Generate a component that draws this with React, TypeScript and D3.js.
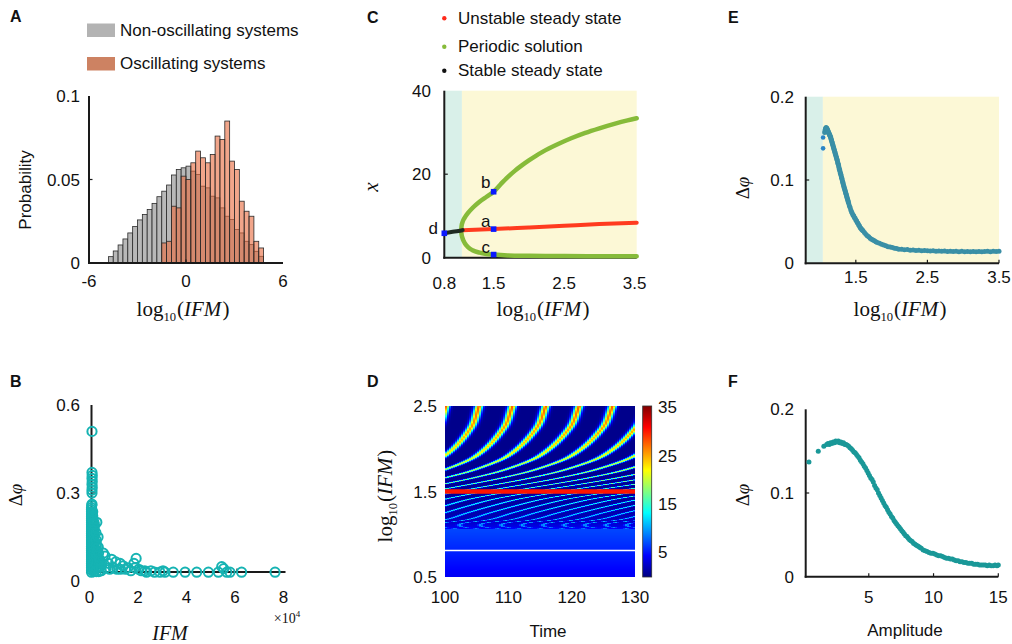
import React, { useMemo } from 'react';
import * as d3 from 'd3';

const SANS = '"Liberation Sans", Arial, Helvetica, sans-serif';
const SERIF = '"Liberation Serif", "Times New Roman", Times, serif';

// ---------------- Panel A: histogram ----------------
const histBinStart = -4.8;
const histBinWidth = 0.3;
const nonOscillating = [0.0038, 0.0072, 0.0108, 0.0144, 0.018, 0.0218, 0.0258, 0.029, 0.032, 0.0357, 0.0397, 0.043, 0.0467, 0.0527, 0.056, 0.057, 0.058, 0.055, 0.053, 0.046, 0.045, 0.04, 0.039, 0.033, 0.028, 0.026, 0.02, 0.018, 0.013, 0.011, 0.007, 0.004];
const oscillating = [0, 0, 0, 0, 0, 0, 0, 0, 0, 0, 0, 0.012, 0.013, 0.034, 0.033, 0.052, 0.05, 0.06, 0.067, 0.063, 0.06, 0.065, 0.076, 0.074, 0.085, 0.061, 0.056, 0.037, 0.031, 0.028, 0.013, 0.009];
const histXTicks = [-6, 0, 6];
const histYTicks = [0, 0.05, 0.1];
const histYTickLabels = ['0', '0.05', '0.1'];
const histLegend = ['Non-oscillating systems', 'Oscillating systems'];

// ---------------- Panel B: scatter (IFM x1e4, delta phi) ----------------
const bStack: [number, number][] = [
  [0.02, 0.51],
  [0.02, 0.37], [0.03, 0.36], [0.02, 0.35], [0.03, 0.34], [0.02, 0.33], [0.03, 0.32], [0.02, 0.31], [0.02, 0.3],
];
const bBlob: [number, number][] = [
  [0.0, 0.03], [0.0, 0.037], [0.0, 0.045], [0.0, 0.052], [0.0, 0.06], [0.0, 0.067], [0.0, 0.074], [0.0, 0.082], [0.0, 0.089], [0.0, 0.096],
  [0.0, 0.104], [0.0, 0.111], [0.0, 0.118], [0.0, 0.126], [0.0, 0.133], [0.0, 0.14], [0.0, 0.148], [0.0, 0.155], [0.0, 0.162], [0.0, 0.17],
  [0.0, 0.177], [0.0, 0.184], [0.0, 0.192], [0.0, 0.199], [0.0, 0.206], [0.0, 0.214], [0.0, 0.221], [0.0, 0.228], [0.0, 0.236], [0.0, 0.243],
  [0.0, 0.25], [0.01, 0.258], [0.02, 0.262],
  [0.05, 0.04], [0.05, 0.054], [0.05, 0.068], [0.05, 0.082], [0.05, 0.096], [0.05, 0.11], [0.05, 0.124], [0.05, 0.138], [0.05, 0.152], [0.05, 0.166],
  [0.05, 0.18], [0.05, 0.194], [0.05, 0.208], [0.05, 0.222], [0.05, 0.236],
  [0.1, 0.032], [0.1, 0.042], [0.1, 0.052], [0.1, 0.062], [0.1, 0.072], [0.1, 0.082], [0.1, 0.092], [0.1, 0.102], [0.1, 0.112], [0.1, 0.122],
  [0.1, 0.132], [0.1, 0.142], [0.1, 0.152], [0.1, 0.162], [0.1, 0.172], [0.11, 0.182], [0.12, 0.192], [0.1, 0.2],
  [0.2, 0.032], [0.2, 0.044], [0.2, 0.056], [0.21, 0.068], [0.2, 0.08], [0.2, 0.092], [0.21, 0.104], [0.2, 0.116], [0.2, 0.128], [0.19, 0.14], [0.22, 0.2], [0.18, 0.165],
  [0.3, 0.032], [0.3, 0.047], [0.31, 0.062], [0.3, 0.077], [0.29, 0.095], [0.28, 0.115], [0.27, 0.15],
  [0.4, 0.035], [0.38, 0.05], [0.42, 0.06], [0.36, 0.07],
];
const bTail: [number, number][] = [
  [0.49, 0.095], [0.56, 0.085], [0.83, 0.074], [0.7, 0.06], [1.0, 0.065], [1.18, 0.06], [1.3, 0.052], [0.6, 0.045], [0.75, 0.04], [0.9, 0.045],
  [1.05, 0.04], [1.2, 0.04], [1.4, 0.04], [1.5, 0.045], [1.62, 0.035], [1.75, 0.06], [1.84, 0.077], [1.78, 0.045], [1.95, 0.04], [2.05, 0.035],
  [2.2, 0.035], [2.27, 0.03], [2.45, 0.035], [2.6, 0.03], [2.82, 0.03], [2.95, 0.035], [3.03, 0.03], [3.37, 0.03], [3.86, 0.03], [4.34, 0.03],
  [4.82, 0.03], [5.23, 0.03], [5.37, 0.049], [5.45, 0.042], [5.58, 0.03], [5.71, 0.03], [6.19, 0.03], [7.57, 0.03],
];
const bXTicks = [0, 2, 4, 6, 8];
const bYTicks = [0, 0.3, 0.6];
const bYTickLabels = ['0', '0.3', '0.6'];
const bBaselineLevel = 0.031;

// ---------------- Panel C: bifurcation diagram ----------------
const cUpperX = [1.04, 1.045, 1.06, 1.09, 1.14, 1.2, 1.3, 1.4, 1.5, 1.6, 1.7, 1.8, 1.9, 2.0, 2.1, 2.2, 2.4, 2.6, 2.8, 3.0, 3.2, 3.4, 3.53];
const cUpperY = [6.6, 7.6, 8.6, 9.6, 10.8, 11.9, 13.4, 14.6, 15.8, 17.6, 19.3, 20.8, 22.1, 23.3, 24.4, 25.4, 27.1, 28.6, 29.9, 31.0, 32.0, 32.9, 33.4];
const cLowerX = [1.04, 1.045, 1.06, 1.09, 1.14, 1.2, 1.3, 1.4, 1.5, 1.7, 2.0, 2.5, 3.0, 3.53];
const cLowerY = [6.6, 5.6, 4.6, 3.5, 2.5, 1.8, 1.2, 0.9, 0.75, 0.55, 0.45, 0.38, 0.35, 0.33];
const cUnstableX = [1.06, 1.5, 2.0, 2.5, 3.0, 3.53];
const cUnstableY = [6.6, 6.85, 7.25, 7.65, 8.05, 8.4];
const cStableX = [0.8, 0.9, 1.0, 1.06];
const cStableY = [5.85, 6.15, 6.4, 6.6];
const cMarkerNames = ['a', 'b', 'c', 'd'];
const cMarkerX = [1.5, 1.5, 1.5, 0.8];
const cMarkerY = [6.85, 15.8, 0.75, 5.85];
const cOnset = 1.05;
const cXTicks = [0.8, 1.5, 2.5, 3.5];
const cYTicks = [0, 20, 40];
const cLegend = ['Unstable steady state', 'Periodic solution', 'Stable steady state'];

// ---------------- Panel D: heatmap parameters ----------------
const dPeriodLevels = [1.06, 1.08, 1.1, 1.13, 1.17, 1.25, 1.33, 1.41, 1.47, 1.53, 1.59, 1.66, 1.756, 1.92, 2.236, 2.5];
const dPeriods = [3.42, 3.33, 3.3, 3.32, 3.45, 3.57, 3.7, 3.846, 4.0, 4.167, 4.348, 4.545, 4.762, 5.0, 5.2, 5.27];
const dOnset = 1.06;
const dSteadyLevels = [0.5, 0.8, 1.06];
const dSteadyValues = [4.0, 5.6, 6.9];
const dRedLevel = 1.5;
const dWhiteLevel = 0.81;
const dXTicks = [100, 110, 120, 130];
const dYTicks = [0.5, 1.5, 2.5];
const dCbarTicks = [5, 15, 25, 35];
const dCbarMax = 35.5;
const dPulseWidth = 0.12;

// ---------------- Panel E ----------------
const eOnsetPoints: [number, number][] = [[1.043, 0.151], [1.043, 0.138]];
const ePoints: [number, number][] = [
  [1.065, 0.157], [1.07, 0.159], [1.075, 0.161], [1.08, 0.162], [1.085, 0.163], [1.09, 0.162], [1.095, 0.162], [1.1, 0.161], [1.105, 0.16], [1.11, 0.159],
  [1.115, 0.158], [1.12, 0.157], [1.125, 0.156], [1.13, 0.155], [1.135, 0.154], [1.14, 0.153], [1.145, 0.152], [1.15, 0.151], [1.155, 0.149], [1.16, 0.148],
  [1.165, 0.146], [1.17, 0.145], [1.175, 0.143], [1.18, 0.142], [1.185, 0.14], [1.19, 0.139], [1.195, 0.137], [1.2, 0.136], [1.205, 0.134], [1.21, 0.133],
  [1.215, 0.131], [1.22, 0.13], [1.225, 0.128], [1.23, 0.127], [1.235, 0.125], [1.24, 0.124], [1.245, 0.122], [1.25, 0.12], [1.255, 0.119], [1.26, 0.117],
  [1.265, 0.115], [1.27, 0.113], [1.275, 0.112], [1.28, 0.11], [1.285, 0.108], [1.29, 0.107], [1.295, 0.105], [1.3, 0.103], [1.305, 0.102], [1.31, 0.1],
  [1.315, 0.098], [1.32, 0.097], [1.325, 0.095], [1.33, 0.093], [1.335, 0.092], [1.34, 0.09], [1.345, 0.089], [1.35, 0.087], [1.355, 0.086], [1.36, 0.084],
  [1.365, 0.083], [1.37, 0.081], [1.375, 0.08], [1.38, 0.078], [1.385, 0.077], [1.39, 0.075], [1.395, 0.074], [1.4, 0.072], [1.41, 0.069], [1.42, 0.067],
  [1.43, 0.064], [1.44, 0.062], [1.45, 0.06], [1.46, 0.058], [1.47, 0.057], [1.48, 0.055], [1.49, 0.054], [1.5, 0.052], [1.51, 0.051], [1.52, 0.049],
  [1.53, 0.048], [1.54, 0.046], [1.55, 0.045], [1.56, 0.043], [1.57, 0.042], [1.58, 0.041], [1.59, 0.04], [1.6, 0.039], [1.62, 0.037], [1.64, 0.035],
  [1.66, 0.033], [1.68, 0.032], [1.7, 0.03], [1.72, 0.029], [1.74, 0.028], [1.76, 0.027], [1.78, 0.026], [1.8, 0.025], [1.83, 0.024], [1.86, 0.023],
  [1.89, 0.022], [1.92, 0.021], [1.95, 0.02], [1.98, 0.0195], [2.01, 0.019], [2.04, 0.018], [2.07, 0.0178], [2.1, 0.017], [2.14, 0.0168], [2.18, 0.0162],
  [2.22, 0.0165], [2.26, 0.0158], [2.3, 0.016], [2.34, 0.0155], [2.38, 0.0158], [2.42, 0.0152], [2.46, 0.0155], [2.5, 0.015], [2.54, 0.0148], [2.58, 0.0152],
  [2.62, 0.0146], [2.66, 0.0149], [2.7, 0.0144], [2.74, 0.0147], [2.78, 0.0142], [2.82, 0.0146], [2.86, 0.0141], [2.9, 0.0145], [2.94, 0.014], [2.98, 0.0144],
  [3.02, 0.0139], [3.06, 0.0143], [3.1, 0.0139], [3.14, 0.0142], [3.18, 0.0138], [3.22, 0.0142], [3.26, 0.0139], [3.3, 0.0143], [3.34, 0.0146], [3.38, 0.014],
  [3.42, 0.0145], [3.46, 0.0141], [3.5, 0.0146],
];
const eOnset = 1.04;
const eXTicks = [1.5, 2.5, 3.5];
const eYTicks = [0, 0.1, 0.2];

// ---------------- Panel F ----------------
const fPoints: [number, number][] = [
  [0.38, 0.137], [1.1, 0.15], [1.53, 0.156], [1.75, 0.158], [1.85, 0.159], [1.95, 0.158], [2.05, 0.16], [2.15, 0.159], [2.25, 0.161], [2.35, 0.16],
  [2.45, 0.162], [2.55, 0.161], [2.65, 0.162], [2.75, 0.16], [2.85, 0.161], [2.95, 0.159], [3.05, 0.16], [3.15, 0.158], [3.25, 0.158], [3.35, 0.157],
  [3.45, 0.156], [3.55, 0.154], [3.65, 0.153], [3.75, 0.151], [3.85, 0.149], [3.95, 0.148], [4.05, 0.146], [4.15, 0.144], [4.25, 0.142], [4.35, 0.139],
  [4.45, 0.137], [4.55, 0.135], [4.65, 0.132], [4.75, 0.13], [4.85, 0.127], [4.95, 0.124], [5.05, 0.121], [5.15, 0.118], [5.25, 0.116], [5.35, 0.113],
  [5.45, 0.109], [5.55, 0.106], [5.65, 0.104], [5.75, 0.1], [5.85, 0.097], [5.95, 0.094], [6.05, 0.091], [6.15, 0.088], [6.25, 0.085], [6.35, 0.083],
  [6.45, 0.08], [6.55, 0.077], [6.65, 0.075], [6.75, 0.072], [6.85, 0.07], [6.95, 0.067], [7.05, 0.065], [7.15, 0.063], [7.25, 0.061], [7.35, 0.059],
  [7.45, 0.057], [7.55, 0.055], [7.65, 0.053], [7.75, 0.051], [7.85, 0.049], [7.95, 0.048], [8.05, 0.046], [8.15, 0.044], [8.25, 0.043], [8.35, 0.042],
  [8.45, 0.04], [8.55, 0.039], [8.65, 0.038], [8.75, 0.037], [8.85, 0.036], [8.95, 0.035], [9.05, 0.034], [9.2, 0.032], [9.35, 0.031], [9.5, 0.03],
  [9.65, 0.029], [9.8, 0.028], [9.95, 0.028], [10.1, 0.027], [10.25, 0.026], [10.4, 0.025], [10.55, 0.025], [10.7, 0.024], [10.85, 0.023], [11.0, 0.022],
  [11.15, 0.022], [11.3, 0.021], [11.45, 0.021], [11.6, 0.02], [11.75, 0.019], [11.9, 0.019], [12.05, 0.018], [12.2, 0.018], [12.35, 0.017], [12.5, 0.017],
  [12.65, 0.016], [12.8, 0.016], [12.95, 0.016], [13.1, 0.015], [13.25, 0.015], [13.4, 0.015], [13.55, 0.014], [13.7, 0.014], [13.85, 0.014], [14.0, 0.014],
  [14.15, 0.013], [14.3, 0.014], [14.45, 0.013], [14.6, 0.013], [14.75, 0.014], [14.9, 0.013], [15.0, 0.014],
];
const fXTicks = [5, 10, 15];
const fYTicks = [0, 0.1, 0.2];

// ---------------- helpers ----------------
function jet(u: number) {
  const c = (v: number) => Math.max(0, Math.min(1, v));
  const r = c(1.5 - Math.abs(4 * u - 3));
  const g = c(1.5 - Math.abs(4 * u - 2));
  const b = c(1.5 - Math.abs(4 * u - 1));
  return `rgb(${Math.round(r * 255)},${Math.round(g * 255)},${Math.round(b * 255)})`;
}

function hermite(xs: number[], ys: number[]) {
  const n = xs.length;
  const m = ys.map((_, i) => {
    if (i === 0) return (ys[1] - ys[0]) / (xs[1] - xs[0]);
    if (i === n - 1) return (ys[n - 1] - ys[n - 2]) / (xs[n - 1] - xs[n - 2]);
    return (ys[i + 1] - ys[i - 1]) / (xs[i + 1] - xs[i - 1]);
  });
  return (x: number) => {
    if (x <= xs[0]) return ys[0];
    if (x >= xs[n - 1]) return ys[n - 1];
    const i = Math.min(n - 2, d3.bisectRight(xs, x) - 1);
    const h = xs[i + 1] - xs[i];
    const s = (x - xs[i]) / h;
    const h00 = 2 * s ** 3 - 3 * s ** 2 + 1;
    const h10 = s ** 3 - 2 * s ** 2 + s;
    const h01 = -2 * s ** 3 + 3 * s ** 2;
    const h11 = s ** 3 - s ** 2;
    return h00 * ys[i] + h10 * h * m[i] + h01 * ys[i + 1] + h11 * h * m[i + 1];
  };
}

const AXIS = '#1a1a1a';

function Axes({ x0, x1, y0, y1, xt = [], yt = [], tl = 3.5 }: { x0: number; x1: number; y0: number; y1: number; xt?: number[]; yt?: number[]; tl?: number }) {
  return (
    <g stroke={AXIS} strokeWidth={2} fill="none">
      <line x1={x0} y1={y1} x2={x0} y2={y0 + 1} />
      <line x1={x0 - 1} y1={y0} x2={x1} y2={y0} />
      {xt.map((x, i) => <line key={'x' + i} x1={x} x2={x} y1={y0} y2={y0 - tl} strokeWidth={1.2} />)}
      {yt.map((y, i) => <line key={'y' + i} x1={x0} x2={x0 + tl} y1={y} y2={y} strokeWidth={1.2} />)}
    </g>
  );
}

function LogLabel({ x, y, size = 21, rotate = false }: { x: number; y: number; size?: number; rotate?: boolean }) {
  return (
    <text x={rotate ? 0 : x} y={rotate ? 0 : y} transform={rotate ? `translate(${x},${y}) rotate(-90)` : undefined} textAnchor="middle" fontFamily={SERIF} fontSize={size} fill="#111">
      log<tspan fontSize={size * 0.6} dy={size * 0.22}>10</tspan>
      <tspan dy={-size * 0.22} dx={1}>(</tspan>
      <tspan fontStyle="italic">IFM</tspan>
      <tspan dx={1}>)</tspan>
    </text>
  );
}

function DeltaPhi({ x, y }: { x: number; y: number }) {
  return (
    <text transform={`translate(${x},${y}) rotate(-90)`} textAnchor="middle" fontFamily={SERIF} fontSize={19} fill="#111">
      Δ<tspan fontStyle="italic">φ</tspan>
    </text>
  );
}

function PanelLetter({ x, y, t }: { x: number; y: number; t: string }) {
  return <text x={x} y={y} fontFamily={SANS} fontWeight="bold" fontSize={16} fill="#111">{t}</text>;
}

export default function App() {
  // ---------- scales ----------
  const ax = d3.scaleLinear().domain([-6, 6]).range([89, 283]);
  const ay = d3.scaleLinear().domain([0, 0.1]).range([263, 96]);

  const bx = d3.scaleLinear().domain([0, 8]).range([91.5, 285.5]);
  const by = d3.scaleLinear().domain([0, 0.6]).range([581, 405]);

  const cx = d3.scaleLinear().domain([0.8, 3.53]).range([444.3, 636.7]);
  const cy = d3.scaleLinear().domain([0, 40]).range([257.7, 90.7]);

  const dx = d3.scaleLinear().domain([100, 130]).range([445, 635]);
  const dy = d3.scaleLinear().domain([0.5, 2.5]).range([577, 406]);
  const cbar = d3.scaleLinear().domain([0, dCbarMax]).range([577, 406]);

  const ex = d3.scaleLinear().domain([0.8, 3.5]).range([805.7, 999]);
  const ey = d3.scaleLinear().domain([0, 0.2]).range([263.3, 96.7]);

  const fx = d3.scaleLinear().domain([0.13, 15]).range([805.7, 998.3]);
  const fy = d3.scaleLinear().domain([0, 0.2]).range([576.7, 409.3]);

  const lineC = d3.line<[number, number]>().x((d) => cx(d[0])).y((d) => cy(d[1])).curve(d3.curveMonotoneX);
  const zip = (a: number[], b: number[]) => a.map((v, i) => [v, b[i]] as [number, number]);

  // ---------- heatmap cells ----------
  const cells = useMemo(() => {
    const period = hermite(dPeriodLevels, dPeriods);
    const upper = d3.scaleLinear().domain(cUpperX).range(cUpperY).clamp(true);
    const lower = d3.scaleLinear().domain(cLowerX).range(cLowerY).clamp(true);
    const steady = d3.scaleLinear().domain(dSteadyLevels).range(dSteadyValues).clamp(true);
    const color = (v: number) => jet(v / dCbarMax);
    const out: { x: number; y: number; w: number; h: number; f: string }[] = [];
    const top = Math.round(dy(2.5));
    const bottom = Math.round(dy(0.5));
    const left = Math.round(dx(100));
    const right = Math.round(dx(130));
    const colW = 2;
    for (let py = top; py < bottom; py += 1) {
      const lv = dy.invert(py + 0.5);
      if (lv < dOnset) {
        out.push({ x: left, y: py, w: right - left, h: 1, f: color(steady(lv)) });
        continue;
      }
      const T = period(lv);
      const hi = upper(lv);
      const lo = lower(lv);
      for (let px = left; px < right; px += colW) {
        const t = dx.invert(px + colW / 2);
        const ph = t / T;
        const dd = Math.abs(ph - Math.round(ph));
        const v = lo + (hi - lo) * Math.exp(-((dd / dPulseWidth) ** 2));
        out.push({ x: px, y: py, w: Math.min(colW, right - px), h: 1, f: color(v) });
      }
    }
    return out;
  }, []);

  const cbarStops = d3.range(0, 1.0001, 1 / 16);
  const bAll = [...bStack, ...bBlob, ...bTail];

  return (
    <svg width={1012} height={644} style={{ position: 'absolute', left: 0, top: 0, background: '#fff' }} fontFamily={SANS}>
      <defs>
        <linearGradient id="jetbar" x1="0" y1="0" x2="0" y2="1">
          {cbarStops.map((o, i) => <stop key={i} offset={o} stopColor={jet(1 - o)} />)}
        </linearGradient>
      </defs>

      {/* ================= Panel A ================= */}
      <PanelLetter x={10} y={22} t="A" />
      <rect x={87} y={23.5} width={28} height={13.5} fill="#b3b3b3" />
      <text x={120} y={35.5} fontSize={17} fill="#111">{histLegend[0]}</text>
      <rect x={87} y={57} width={28} height={13.5} fill="#cd8262" />
      <text x={120} y={69} fontSize={17} fill="#111">{histLegend[1]}</text>
      {nonOscillating.map((p, i) => {
        const x0 = histBinStart + i * histBinWidth;
        return <rect key={'g' + i} x={ax(x0)} y={ay(p)} width={ax(x0 + histBinWidth) - ax(x0)} height={ay(0) - ay(p)} fill="#b8b8b8" stroke="#2a2a2a" strokeWidth={0.8} />;
      })}
      {oscillating.map((p, i) => {
        if (p <= 0) return null;
        const x0 = histBinStart + i * histBinWidth;
        return <rect key={'o' + i} x={ax(x0)} y={ay(p)} width={ax(x0 + histBinWidth) - ax(x0)} height={ay(0) - ay(p)} fill="#e8693c" fillOpacity={0.6} stroke="#2a2a2a" strokeWidth={0.8} />;
      })}
      <Axes x0={ax(-6)} x1={ax(6)} y0={ay(0)} y1={ay(0.1)} xt={[ax(0)]} yt={[ay(0.05)]} />
      {histYTicks.map((t, i) => <text key={i} x={80} y={ay(t) + 6} textAnchor="end" fontSize={17} fill="#111">{histYTickLabels[i]}</text>)}
      {histXTicks.map((t) => <text key={t} x={ax(t)} y={287} textAnchor="middle" fontSize={17} fill="#111">{t}</text>)}
      <text transform={`translate(31,190) rotate(-90)`} textAnchor="middle" fontSize={17} fill="#111">Probability</text>
      <LogLabel x={183} y={316} />

      {/* ================= Panel B ================= */}
      <PanelLetter x={10} y={387} t="B" />
      <Axes x0={bx(0)} x1={bx(8)} y0={by(bBaselineLevel)} y1={by(0.6)} xt={[bx(2), bx(4), bx(6)]} yt={[by(0.3)]} />
      {bAll.map((p, i) => <circle key={i} cx={bx(p[0])} cy={by(p[1])} r={4.6} fill="none" stroke="#16b3b3" strokeWidth={2} />)}
      {bYTicks.map((t, i) => <text key={i} x={80} y={by(t) + 6} textAnchor="end" fontSize={17} fill="#111">{bYTickLabels[i]}</text>)}
      {bXTicks.map((t) => <text key={t} x={bx(t) - 2} y={603} textAnchor="middle" fontSize={17} fill="#111">{t}</text>)}
      <text x={287} y={623} textAnchor="middle" fontFamily={SERIF} fontSize={14} fill="#111">×10<tspan fontSize={9} dy={-6}>4</tspan></text>
      <text x={170} y={640} textAnchor="middle" fontFamily={SERIF} fontStyle="italic" fontSize={20} fill="#111">IFM</text>
      <DeltaPhi x={22} y={495} />

      {/* ================= Panel C ================= */}
      <PanelLetter x={367} y={23} t="C" />
      {cLegend.map((s, i) => (
        <g key={s}>
          <circle cx={444.3} cy={18.3 + [0, 28.4, 52.4][i]} r={2.2} fill={['#ff2a1a', '#86bb3a', '#111'][i]} />
          <text x={458} y={24 + [0, 28.4, 52.4][i]} fontSize={17} fill="#111">{s}</text>
        </g>
      ))}
      <rect x={cx(0.8)} y={cy(40)} width={cx(cOnset) - cx(0.8)} height={cy(0) - cy(40)} fill="#d9f0e9" />
      <rect x={cx(cOnset)} y={cy(40)} width={cx(3.53) - cx(cOnset)} height={cy(0) - cy(40)} fill="#fcf8d6" />
      <Axes x0={cx(0.8)} x1={cx(3.53)} y0={cy(0)} y1={cy(40)} xt={[cx(1.5), cx(2.5)]} yt={[cy(20)]} />
      <path d={lineC(zip(cUpperX, cUpperY)) || ''} fill="none" stroke="#86bb3a" strokeWidth={4.5} strokeLinecap="round" />
      <path d={lineC(zip(cLowerX, cLowerY)) || ''} fill="none" stroke="#86bb3a" strokeWidth={4.5} strokeLinecap="round" />
      <path d={lineC(zip(cUnstableX, cUnstableY)) || ''} fill="none" stroke="#ff3b1f" strokeWidth={4} strokeLinecap="round" />
      <path d={lineC(zip(cStableX, cStableY)) || ''} fill="none" stroke="#1f2a22" strokeWidth={4} strokeLinecap="round" />
      {cMarkerNames.map((n, i) => (
        <g key={n}>
          <rect x={cx(cMarkerX[i]) - 2.8} y={cy(cMarkerY[i]) - 2.8} width={5.6} height={5.6} fill="#0a18ff" />
          <text x={cx(cMarkerX[i]) + (n === 'd' ? -11 : -8)} y={cy(cMarkerY[i]) + (n === 'd' ? 1 : n === 'b' ? -4 : -2)} textAnchor="middle" fontSize={17} fill="#111">{n}</text>
        </g>
      ))}
      {cYTicks.map((t) => <text key={t} x={431} y={cy(t) + 6} textAnchor="end" fontSize={17} fill="#111">{t}</text>)}
      {cXTicks.map((t) => <text key={t} x={cx(t)} y={289} textAnchor="middle" fontSize={17} fill="#111">{t.toFixed(1)}</text>)}
      <text transform="translate(378,187) rotate(-90)" textAnchor="middle" fontFamily={SERIF} fontStyle="italic" fontSize={21} fill="#111">x</text>
      <LogLabel x={543} y={316} />

      {/* ================= Panel D ================= */}
      <PanelLetter x={367} y={387} t="D" />
      <g shapeRendering="crispEdges">
        {cells.map((c, i) => <rect key={i} x={c.x} y={c.y} width={c.w} height={c.h} fill={c.f} />)}
      </g>
      <line x1={dx(100)} x2={dx(130)} y1={dy(dRedLevel)} y2={dy(dRedLevel)} stroke="#ff1500" strokeWidth={4.5} />
      <line x1={dx(100)} x2={dx(130)} y1={dy(dWhiteLevel)} y2={dy(dWhiteLevel)} stroke="#ffffff" strokeWidth={1.6} />
      <rect x={642.7} y={cbar(dCbarMax)} width={9} height={cbar(0) - cbar(dCbarMax)} fill="url(#jetbar)" stroke="#333" strokeWidth={0.8} />
      {dCbarTicks.map((t) => <text key={t} x={658} y={cbar(t) + 5} fontSize={17} fill="#111">{t}</text>)}
      {dYTicks.map((t) => <text key={t} x={437} y={dy(t) + 6} textAnchor="end" fontSize={17} fill="#111">{t.toFixed(1)}</text>)}
      {dXTicks.map((t) => <text key={t} x={dx(t)} y={603} textAnchor="middle" fontSize={17} fill="#111">{t}</text>)}
      <text x={548} y={637} textAnchor="middle" fontSize={17} fill="#111">Time</text>
      <LogLabel x={392} y={496} rotate />

      {/* ================= Panel E ================= */}
      <PanelLetter x={728} y={23} t="E" />
      <rect x={ex(0.8)} y={ey(0.2)} width={ex(eOnset) - ex(0.8)} height={ey(0) - ey(0.2)} fill="#d9f0e9" />
      <rect x={ex(eOnset)} y={ey(0.2)} width={ex(3.5) - ex(eOnset)} height={ey(0) - ey(0.2)} fill="#fcf8d6" />
      <Axes x0={ex(0.8)} x1={ex(3.5)} y0={ey(0)} y1={ey(0.2)} xt={[ex(1.5), ex(2.5), ex(3.5)]} yt={[ey(0.1)]} />
      {eOnsetPoints.map((p, i) => <circle key={'eo' + i} cx={ex(p[0])} cy={ey(p[1])} r={2.3} fill="#2a85c6" />)}
      {ePoints.map((p, i) => <circle key={'e' + i} cx={ex(p[0])} cy={ey(p[1])} r={2.5} fill="#3a8fa6" />)}
      {eYTicks.map((t) => <text key={t} x={794} y={ey(t) + 6} textAnchor="end" fontSize={17} fill="#111">{t === 0 ? '0' : t.toFixed(1)}</text>)}
      {eXTicks.map((t) => <text key={t} x={ex(t)} y={283} textAnchor="middle" fontSize={17} fill="#111">{t.toFixed(1)}</text>)}
      <DeltaPhi x={749} y={188} />
      <LogLabel x={900} y={316} />

      {/* ================= Panel F ================= */}
      <PanelLetter x={728} y={387} t="F" />
      <Axes x0={fx(0.13)} x1={fx(15)} y0={fy(0)} y1={fy(0.2)} xt={[fx(5), fx(10), fx(15)]} yt={[fy(0.1)]} />
      {fPoints.map((p, i) => <circle key={'f' + i} cx={fx(p[0])} cy={fy(p[1])} r={2.5} fill="#1a9898" />)}
      {fYTicks.map((t) => <text key={t} x={794} y={fy(t) + 6} textAnchor="end" fontSize={17} fill="#111">{t === 0 ? '0' : t.toFixed(1)}</text>)}
      {fXTicks.map((t) => <text key={t} x={fx(t)} y={603} textAnchor="middle" fontSize={17} fill="#111">{t}</text>)}
      <text x={905} y={636} textAnchor="middle" fontSize={17} fill="#111">Amplitude</text>
      <DeltaPhi x={749} y={495} />
    </svg>
  );
}
